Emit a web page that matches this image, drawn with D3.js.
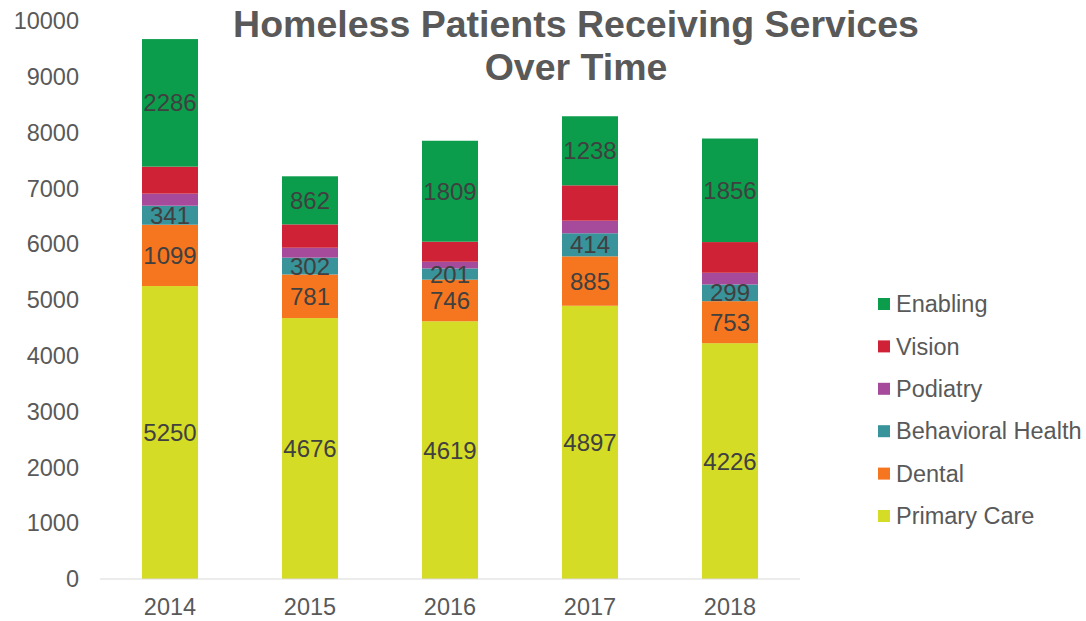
<!DOCTYPE html>
<html>
<head>
<meta charset="utf-8">
<script src="https://cdn.jsdelivr.net/npm/d3@7"></script>
<style>
  body { margin: 0; background: #fff; }
  svg text { font-family: "Liberation Sans", Arial, sans-serif; }
</style>
</head>
<body>
<svg id="chart" width="1086" height="621"></svg>
<script>
// Chart data
const years = ['2014', '2015', '2016', '2017', '2018'];
const primaryCare = [5250, 4676, 4619, 4897, 4226];
const dental = [1099, 781, 746, 885, 753];
const behavioralHealth = [341, 302, 201, 414, 299];
const podiatry = [216, 178, 120, 225, 210]; // no labels
const vision = [484, 418, 359, 634, 550];    // no labels
const enabling = [2286, 862, 1809, 1238, 1856];
const yTicks = [0, 1000, 2000, 3000, 4000, 5000, 6000, 7000, 8000, 9000, 10000];

const seriesNames = ['Primary Care', 'Dental', 'Behavioral Health', 'Podiatry', 'Vision', 'Enabling'];
const seriesColors = ['#D5DC26', '#F6761F', '#38939A', '#A64B9C', '#CF2236', '#0C9D4C'];
const showLabel = [true, true, true, false, false, true];

const svg = d3.select('#chart');

// build table for the stack
const table = years.map((y, i) => ({
  year: y,
  'Primary Care': primaryCare[i],
  'Dental': dental[i],
  'Behavioral Health': behavioralHealth[i],
  'Podiatry': podiatry[i],
  'Vision': vision[i],
  'Enabling': enabling[i]
}));
const stacked = d3.stack().keys(seriesNames)(table);

const x = d3.scaleBand()
  .domain(years)
  .range([100, 800])
  .paddingInner(0.6)
  .paddingOuter(0.3);

const y = d3.scaleLinear()
  .domain([0, 10000])
  .range([579, 21]);

// y tick labels (no axis line)
svg.append('g')
  .selectAll('text')
  .data(yTicks)
  .join('text')
  .attr('x', 79)
  .attr('y', d => y(d))
  .attr('dy', '0.35em')
  .attr('text-anchor', 'end')
  .attr('font-size', 23.5)
  .attr('fill', '#595959')
  .text(d => d);

// bars
const layers = svg.append('g')
  .selectAll('g')
  .data(stacked)
  .join('g')
  .attr('fill', (d, i) => seriesColors[i]);

layers.selectAll('rect')
  .data(d => d)
  .join('rect')
  .attr('x', d => x(d.data.year))
  .attr('width', x.bandwidth())
  .attr('y', d => y(d[1]))
  .attr('height', d => y(d[0]) - y(d[1]));

// data labels
svg.append('g')
  .selectAll('g')
  .data(stacked.filter((s, i) => showLabel[i]))
  .join('g')
  .selectAll('text')
  .data(d => d.map(p => ({ p: p, key: d.key })))
  .join('text')
  .attr('x', d => x(d.p.data.year) + x.bandwidth() / 2)
  .attr('y', d => (y(d.p[0]) + y(d.p[1])) / 2)
  .attr('dy', '0.36em')
  .attr('text-anchor', 'middle')
  .attr('font-size', 24)
  .attr('fill', '#404040')
  .text(d => d.p.data[d.key]);

// x axis
svg.append('line')
  .attr('x1', 100).attr('x2', 800)
  .attr('y1', y(0)).attr('y2', y(0))
  .attr('stroke', '#d9d9d9')
  .attr('stroke-width', 1);

svg.append('g')
  .selectAll('text')
  .data(years)
  .join('text')
  .attr('x', d => x(d) + x.bandwidth() / 2)
  .attr('y', 607)
  .attr('dy', '0.35em')
  .attr('text-anchor', 'middle')
  .attr('font-size', 23.5)
  .attr('fill', '#595959')
  .text(d => d);

// title
const title = svg.append('text')
  .attr('text-anchor', 'middle')
  .attr('font-size', 37.5)
  .attr('font-weight', 'bold')
  .attr('fill', '#595959');
title.append('tspan').attr('x', 576).attr('y', 37).text('Homeless Patients Receiving Services');
title.append('tspan').attr('x', 576).attr('y', 80).text('Over Time');

// legend (top to bottom = reverse stack order)
const legendOrder = seriesNames.map((n, i) => i).reverse();
const legend = svg.append('g')
  .selectAll('g')
  .data(legendOrder)
  .join('g')
  .attr('transform', (d, i) => `translate(878, ${304 + i * 42.4})`);

legend.append('rect')
  .attr('x', 0).attr('y', -6)
  .attr('width', 12).attr('height', 12)
  .attr('fill', d => seriesColors[d]);

legend.append('text')
  .attr('x', 18)
  .attr('y', 0)
  .attr('dy', '0.35em')
  .attr('font-size', 23.5)
  .attr('fill', '#595959')
  .text(d => seriesNames[d]);
</script>
</body>
</html>
